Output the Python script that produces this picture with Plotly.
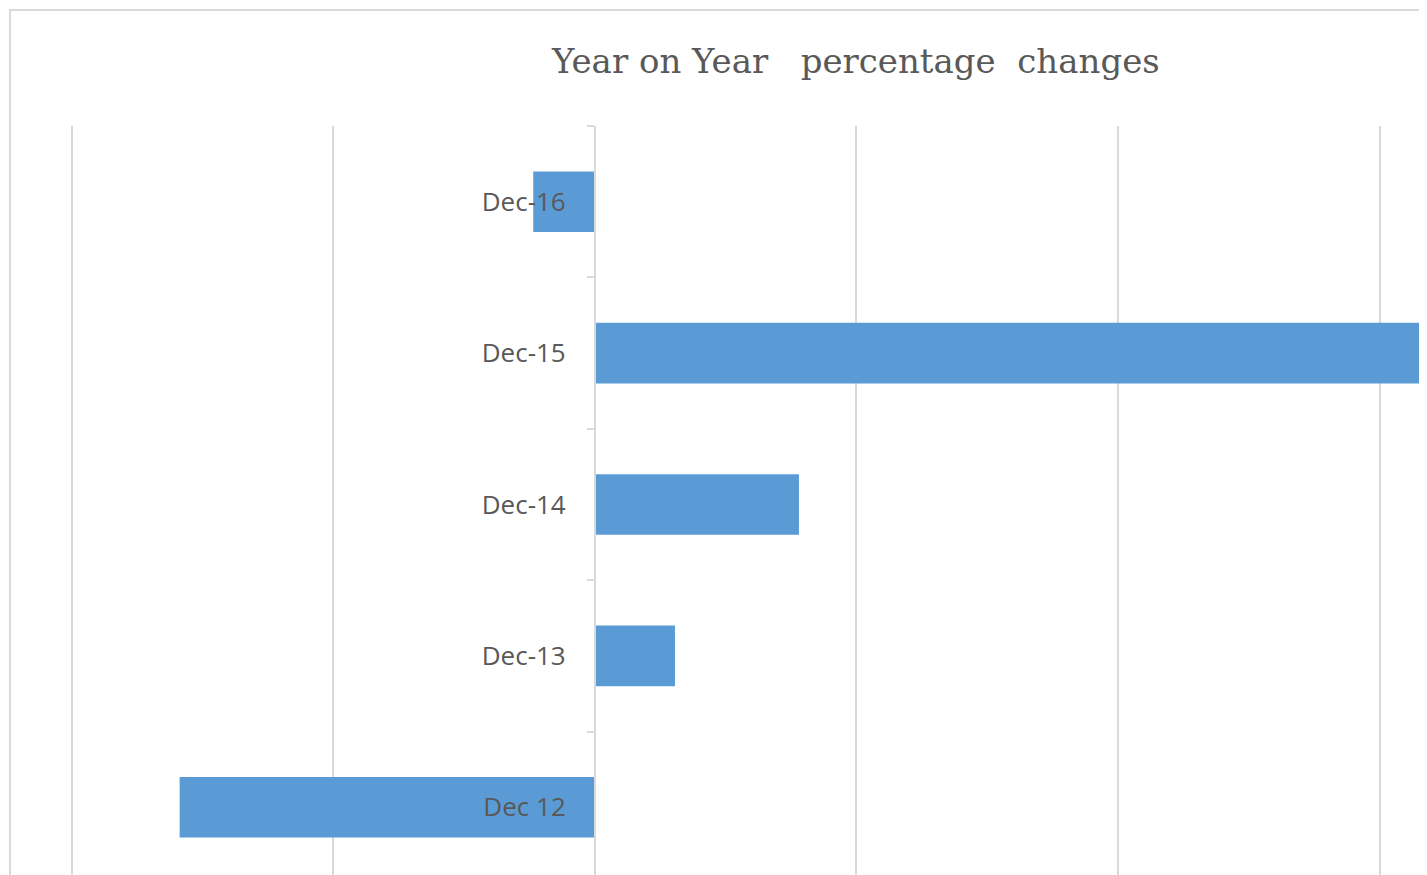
import plotly.graph_objects as go

categories = ["Dec 12", "Dec-13", "Dec-14", "Dec-15", "Dec-16"]
values = [-7.94, 1.53, 3.90, 15.76, -1.18]
title_text = "Year on Year\u00a0\u00a0 percentage\u00a0 changes"

W, H = 1427, 875
ML, MT = 55, 118
x_min, x_max = -10.17, 16.06

fig = go.Figure(
    go.Bar(
        x=values,
        y=categories,
        orientation="h",
        width=0.4,
        marker=dict(color="#5b9bd5", line=dict(width=0)),
        hoverinfo="x+y",
    )
)

fig.update_layout(
    width=W,
    height=H,
    margin=dict(l=ML, r=0, t=MT, b=0, pad=0),
    paper_bgcolor="white",
    plot_bgcolor="white",
    showlegend=False,
    annotations=[
        dict(
            text=title_text,
            xref="paper",
            yref="paper",
            x=(847 - ML) / (W - ML),
            y=1 + (MT - 53) / (H - MT),
            xanchor="center",
            yanchor="middle",
            showarrow=False,
            font=dict(family="DejaVu Serif", size=34, color="#595959"),
        )
    ],
    shapes=[
        dict(
            type="rect",
            xref="paper",
            yref="paper",
            x0=(2 - ML) / (W - ML),
            x1=1.2,
            y0=-0.2,
            y1=1 + (MT - 2) / (H - MT),
            line=dict(color="#d9d9d9", width=2),
            fillcolor="rgba(0,0,0,0)",
            layer="below",
        )
    ],
)

fig.update_xaxes(
    range=[x_min, x_max],
    showticklabels=False,
    showline=False,
    zeroline=False,
    showgrid=True,
    gridcolor="#d9d9d9",
    gridwidth=2,
    tick0=0,
    dtick=5,
    ticks="",
)

fig.update_yaxes(
    type="category",
    categoryorder="array",
    categoryarray=categories,
    range=[-0.5, 4.5],
    anchor="free",
    position=(0 - x_min) / (x_max - x_min),
    showline=True,
    linecolor="#d9d9d9",
    linewidth=2,
    showgrid=False,
    zeroline=False,
    ticks="outside",
    tickson="boundaries",
    ticklen=7,
    tickwidth=2,
    tickcolor="#d9d9d9",
    ticklabelstandoff=23,
    tickfont=dict(family="Open Sans", size=26, color="#595959"),
)

fig.write_html("out.html")
